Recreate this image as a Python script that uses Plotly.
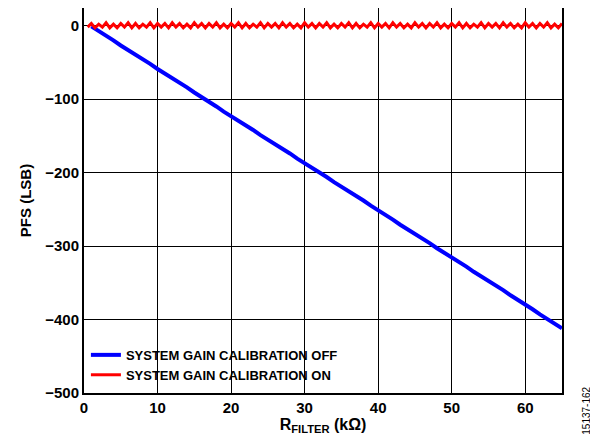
import plotly.graph_objects as go

# R_FILTER (kOhm) sample points
r_off = [1, 2, 3, 4, 5, 6, 7, 8, 9, 10, 11, 12, 13, 14, 15, 16, 17, 18, 19, 20,
         21, 22, 23, 24, 25, 26, 27, 28, 29, 30, 31, 32, 33, 34, 35, 36, 37, 38, 39, 40,
         41, 42, 43, 44, 45, 46, 47, 48, 49, 50, 51, 52, 53, 54, 55, 56, 57, 58, 59, 60,
         61, 62, 63, 64, 65]
# PFS with system gain calibration off (LSB)
pfs_off = [-1, -7, -14, -20, -27, -33, -39, -46, -52, -59, -65, -72, -78, -84, -91, -97,
           -104, -110, -117, -123, -129, -136, -142, -149, -155, -161, -168, -174, -181, -187,
           -194, -200, -206, -213, -219, -226, -232, -238, -245, -251, -258, -264, -271, -277,
           -283, -290, -296, -303, -309, -316, -322, -328, -335, -341, -348, -354, -360, -367,
           -373, -380, -386, -393, -399, -405, -412]

r_on = [0.5, 1, 1.5, 2, 2.5, 3, 3.5, 4, 4.5, 5, 5.5, 6, 6.5, 7, 7.5, 8, 8.5, 9, 9.5, 10, 10.5,
        11, 11.5, 12, 12.5, 13, 13.5, 14, 14.5, 15, 15.5, 16, 16.5, 17, 17.5, 18, 18.5, 19, 19.5,
        20, 20.5, 21, 21.5, 22, 22.5, 23, 23.5, 24, 24.5, 25, 25.5, 26, 26.5, 27, 27.5, 28, 28.5,
        29, 29.5, 30, 30.5, 31, 31.5, 32, 32.5, 33, 33.5, 34, 34.5, 35, 35.5, 36, 36.5, 37, 37.5,
        38, 38.5, 39, 39.5, 40, 40.5, 41, 41.5, 42, 42.5, 43, 43.5, 44, 44.5, 45, 45.5, 46, 46.5,
        47, 47.5, 48, 48.5, 49, 49.5, 50, 50.5, 51, 51.5, 52, 52.5, 53, 53.5, 54, 54.5, 55, 55.5,
        56, 56.5, 57, 57.5, 58, 58.5, 59, 59.5, 60, 60.5, 61, 61.5, 62, 62.5, 63, 63.5, 64, 64.5, 65]
# PFS with system gain calibration on (LSB)
pfs_on = [-2, 3, -3, 2, -2, 4, -3, 2, -3, 3, -2, 4, -3, 3, -3, 2, -2, 4, -3, 3, -2,
          3, -3, 4, -2, 3, -3, 2, -3, 4, -2, 3, -3, 3, -2, 4, -3, 2, -3, 3, -2,
          4, -3, 3, -3, 2, -2, 4, -3, 3, -2, 3, -3, 4, -2, 3, -3, 2, -3, 4, -2,
          3, -3, 3, -2, 4, -3, 2, -3, 3, -2, 4, -3, 3, -3, 2, -2, 4, -3, 3, -2,
          3, -3, 4, -2, 3, -3, 2, -3, 4, -2, 3, -3, 3, -2, 4, -3, 2, -3, 3, -2,
          4, -3, 3, -3, 2, -2, 4, -3, 3, -2, 3, -3, 4, -2, 3, -3, 2, -3, 4, -2,
          3, -3, 3, -2, 4, -3, 2, -3, 3]

font_family = 'Liberation Sans, Arial, sans-serif'

fig = go.Figure()

fig.add_trace(go.Scatter(
    x=r_off, y=pfs_off, mode='lines',
    name='SYSTEM GAIN CALIBRATION OFF',
    line=dict(color='#0000ff', width=4)
))
fig.add_trace(go.Scatter(
    x=r_on, y=pfs_on, mode='lines',
    name='SYSTEM GAIN CALIBRATION ON',
    line=dict(color='#ff0000', width=3)
))

axis_common = dict(
    showline=True, linecolor='black', linewidth=2, mirror=True,
    showgrid=True, gridcolor='black', gridwidth=1,
    zeroline=False, ticks='', automargin=False,
    tickfont=dict(family=font_family, size=15, color='black', weight='bold'),
)

fig.update_layout(
    width=598, height=436,
    # page body adds an 8px offset, margins compensate for it
    margin=dict(l=76, r=44, t=0, b=51, autoexpand=False),
    paper_bgcolor='white', plot_bgcolor='white',
    font=dict(family=font_family, color='black'),
    xaxis=dict(range=[0, 65], dtick=10, tick0=0,
               title=dict(text='R<sub>FILTER</sub> (kΩ)', standoff=2,
                          font=dict(family=font_family, size=16, color='black', weight='bold')),
               **axis_common),
    yaxis=dict(range=[-500, 24], dtick=100, tick0=0,
               title=dict(text='PFS (LSB)', standoff=10,
                          font=dict(family=font_family, size=15, color='black', weight='bold')),
               **axis_common),
    legend=dict(x=0.004, y=0.008, xanchor='left', yanchor='bottom',
                bgcolor='rgba(0,0,0,0)', itemwidth=30,
                font=dict(family=font_family, size=13, color='black', weight='bold')),
    showlegend=True,
)

fig.add_annotation(
    text='15137-162', xref='paper', yref='paper',
    x=1.051, y=-0.045, xanchor='center', yanchor='middle',
    textangle=-90, showarrow=False,
    font=dict(family=font_family, size=10, color='black')
)

fig.write_html('out.html')
